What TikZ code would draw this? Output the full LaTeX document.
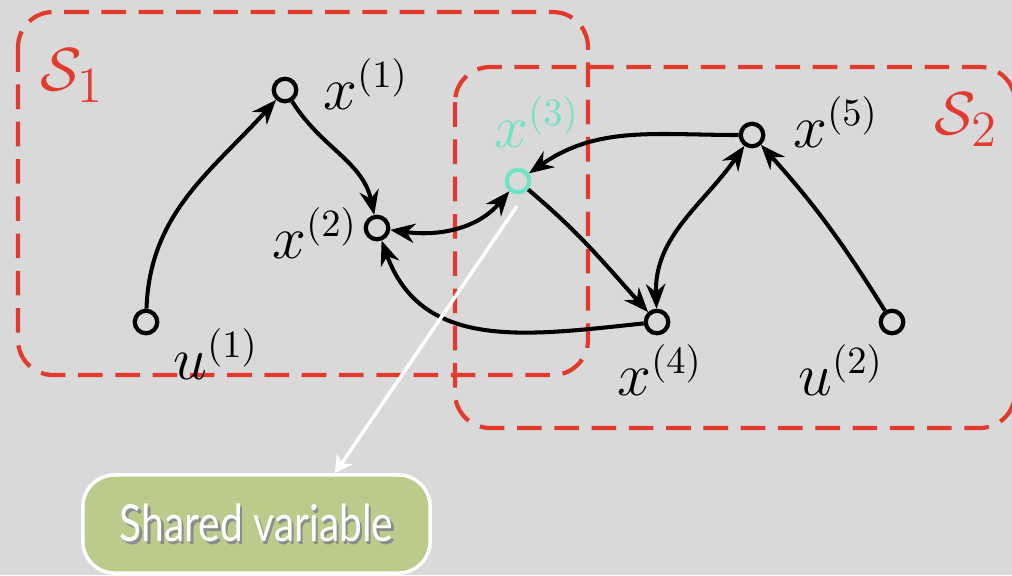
\documentclass[tikz,border=0pt]{standalone}
\usepackage{amsmath,amssymb}
\usepackage{fontspec}
\newfontfamily\boxfont[FakeStretch=0.8]{Lato}
\usetikzlibrary{arrows.meta}
\definecolor{fundo}{HTML}{D9D9D9}
\definecolor{vermelho}{HTML}{E23B2E}
\definecolor{ciano}{HTML}{6FE3C6}
\definecolor{oliva}{HTML}{BBCB8C}
\newcommand{\sombra}[1]{\makebox[0pt][l]{\raisebox{-0.9pt}{\hspace{0.7pt}\textcolor{black!45}{#1}}}#1}

\begin{document}
\begin{tikzpicture}[x=0.01cm,y=-0.01cm,
      every node/.style={font=\fontsize{16}{19}\selectfont},
      V/.style={draw,circle,line width=1.2pt,inner sep=0pt,minimum size=0.225cm},
      grupo/.style={draw=vermelho,line width=1.2pt,dash pattern=on 7pt off 3.6pt,rounded corners=10pt},
      seta/.style={line width=1.15pt},
      >={Stealth[length=7pt,width=5.5pt]},
    ]
  \useasboundingbox (0,0) rectangle (1012,575);
  \clip (0,0) rectangle (1012,575);
  \fill[fundo] (0,0) rectangle (1012,575);

  % os dois subsistemas
  \draw[grupo] (18,12) rectangle (588,375);
  \draw[grupo] (455,67) rectangle (1015,428);
  \node[text=vermelho,font=\fontsize{19}{23}\selectfont] (s1) at (72,76) {$\mathcal{S}_1$};
  \node[text=vermelho,font=\fontsize{19}{23}\selectfont] (s2) at (966,120) {$\mathcal{S}_2$};

  \node[V] (u1) at (146,322) {};
  \node[V] (x1) at (285,90) {};
  \node[V] (x2) at (377,228) {};
  \node[V,draw=ciano] (x3) at (518,181) {};
  \node[V] (x4) at (657,322) {};
  \node[V] (x5) at (752,135) {};
  \node[V] (u2) at (892,322) {};

  \node (lu1) at (216,354) {$u^{(1)}$};
  \node (lx1) at (366,84) {$x^{(1)}$};
  \node (lx2) at (315,233) {$x^{(2)}$};
  \node[text=ciano] (lx3) at (537,122) {$x^{(3)}$};
  \node (lx4) at (660,370) {$x^{(4)}$};
  \node (lx5) at (836,122) {$x^{(5)}$};
  \node (lu2) at (841,370) {$u^{(2)}$};

  \draw[seta,->] (u1) to[out=88,in=228] (x1);
  \draw[seta,->] (x1) to[out=-58,in=102] (x2);
  \draw[seta,<->] (x2) to[out=-8,in=230] (x3);
  \draw[seta,->] (x5) to[out=180,in=35] (x3);
  \draw[seta,->] (x3) to[out=-40,in=132] (x4);
  \draw[seta,<->] (x4) to[out=92,in=235] (x5);
  \draw[seta,->] (u2) to[out=122,in=-48] (x5);
  \draw[seta,->] (x4) to[out=186,in=-70,looseness=1.1] (x2);

  % caixa da variavel partilhada
  \node[draw=white,fill=oliva,line width=1pt,rounded corners=9pt,minimum width=3.47cm,minimum height=0.98cm,
        font=\boxfont\fontsize{14.5}{17}\selectfont,text=white] (sv) at (256.5,524) {\sombra{Shared variable}};
  \coordinate (c3) at (517,206);
  \draw[white,line width=1pt,-{Stealth[length=5pt,width=5.5pt]}] (c3) -- (sv.north -| 335,0);
\end{tikzpicture}
\end{document}
